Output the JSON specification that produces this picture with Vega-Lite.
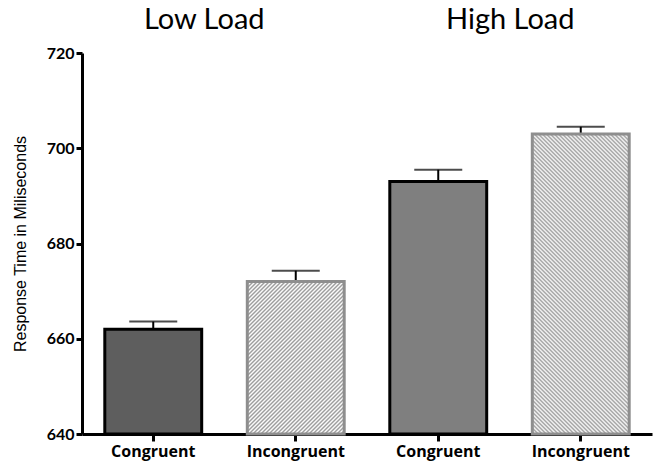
{
  "$schema": "https://vega.github.io/schema/vega-lite/v6.json",
  "width": 570,
  "height": 381,
  "autosize": {"type": "none"},
  "padding": {"left": 82, "top": 53, "right": 5, "bottom": 29},
  "background": "white",
  "config": {"view": {"stroke": null}},
  "data": {
    "values": [
      {"id": "LC", "cond": "Congruent", "load": "Low Load", "rt": 662, "upper": 663.6},
      {"id": "LI", "cond": "Incongruent", "load": "Low Load", "rt": 672, "upper": 674.3},
      {"id": "HC", "cond": "Congruent", "load": "High Load", "rt": 693, "upper": 695.5},
      {"id": "HI", "cond": "Incongruent", "load": "High Load", "rt": 703, "upper": 704.5}
    ]
  },
  "encoding": {
    "x": {
      "field": "id",
      "type": "nominal",
      "sort": ["LC", "LI", "HC", "HI"],
      "scale": {"paddingInner": 0.32, "paddingOuter": 0.16},
      "axis": {
        "title": null,
        "labelAngle": 0,
        "labelExpr": "(datum.value == 'LC' || datum.value == 'HC') ? 'Congruent' : 'Incongruent'",
        "labelFont": "Open Sans",
        "labelFontWeight": "bold",
        "labelFontSize": 16,
        "labelColor": "black",
        "labelPadding": 2,
        "domainColor": "black",
        "domainWidth": 3,
        "tickColor": "black",
        "tickWidth": 3,
        "tickSize": 7
      }
    },
    "y": {
      "field": "rt",
      "type": "quantitative",
      "scale": {"domain": [640, 720], "nice": false, "zero": false},
      "axis": {
        "title": "Response Time in Miliseconds",
        "titleFont": "Liberation Sans",
        "titleFontSize": 16,
        "titleFontWeight": "normal",
        "titleColor": "black",
        "titlePadding": 18,
        "values": [640, 660, 680, 700, 720],
        "grid": false,
        "labelFont": "Lato",
        "labelFontWeight": "bold",
        "labelFontSize": 16,
        "labelColor": "black",
        "labelPadding": 2,
        "domainColor": "black",
        "domainWidth": 3,
        "tickColor": "black",
        "tickWidth": 3,
        "tickSize": 6
      }
    }
  },
  "layer": [
    {
      "mark": {"type": "rule", "color": "black", "strokeWidth": 2},
      "encoding": {
        "y": {"field": "rt", "type": "quantitative"},
        "y2": {"field": "upper"}
      }
    },
    {
      "mark": {"type": "tick", "color": "black", "thickness": 2, "size": 48},
      "encoding": {
        "y": {"field": "upper", "type": "quantitative"}
      }
    },
    {
      "transform": [{"filter": "datum.cond == 'Congruent'"}],
      "mark": {"type": "bar", "strokeWidth": 3, "stroke": "black"},
      "encoding": {
        "y2": {"datum": 640},
        "fill": {
          "field": "id",
          "type": "nominal",
          "scale": {"domain": ["LC", "HC"], "range": ["#5e5e5e", "#7f7f7f"]},
          "legend": null
        }
      }
    },
    {
      "transform": [{"filter": "datum.id == 'LI'"}],
      "mark": {
        "type": "bar",
        "strokeWidth": 3,
        "stroke": "#8e8e8e",
        "fill": {
          "gradient": "linear",
          "x1": 0, "y1": 0, "x2": 1.1884, "y2": 1.8691,
          "stops": [
            {"offset":0,"color":"#fff"},{"offset":0.005,"color":"#999"},
            {"offset":0.01,"color":"#fff"},{"offset":0.015,"color":"#999"},
            {"offset":0.02,"color":"#fff"},{"offset":0.025,"color":"#999"},
            {"offset":0.03,"color":"#fff"},{"offset":0.035,"color":"#999"},
            {"offset":0.04,"color":"#fff"},{"offset":0.045,"color":"#999"},
            {"offset":0.05,"color":"#fff"},{"offset":0.055,"color":"#999"},
            {"offset":0.06,"color":"#fff"},{"offset":0.065,"color":"#999"},
            {"offset":0.07,"color":"#fff"},{"offset":0.075,"color":"#999"},
            {"offset":0.08,"color":"#fff"},{"offset":0.085,"color":"#999"},
            {"offset":0.09,"color":"#fff"},{"offset":0.095,"color":"#999"},
            {"offset":0.1,"color":"#fff"},{"offset":0.105,"color":"#999"},
            {"offset":0.11,"color":"#fff"},{"offset":0.115,"color":"#999"},
            {"offset":0.12,"color":"#fff"},{"offset":0.125,"color":"#999"},
            {"offset":0.13,"color":"#fff"},{"offset":0.135,"color":"#999"},
            {"offset":0.14,"color":"#fff"},{"offset":0.145,"color":"#999"},
            {"offset":0.15,"color":"#fff"},{"offset":0.155,"color":"#999"},
            {"offset":0.16,"color":"#fff"},{"offset":0.165,"color":"#999"},
            {"offset":0.17,"color":"#fff"},{"offset":0.175,"color":"#999"},
            {"offset":0.18,"color":"#fff"},{"offset":0.185,"color":"#999"},
            {"offset":0.19,"color":"#fff"},{"offset":0.195,"color":"#999"},
            {"offset":0.2,"color":"#fff"},{"offset":0.205,"color":"#999"},
            {"offset":0.21,"color":"#fff"},{"offset":0.215,"color":"#999"},
            {"offset":0.22,"color":"#fff"},{"offset":0.225,"color":"#999"},
            {"offset":0.23,"color":"#fff"},{"offset":0.235,"color":"#999"},
            {"offset":0.24,"color":"#fff"},{"offset":0.245,"color":"#999"},
            {"offset":0.25,"color":"#fff"},{"offset":0.255,"color":"#999"},
            {"offset":0.26,"color":"#fff"},{"offset":0.265,"color":"#999"},
            {"offset":0.27,"color":"#fff"},{"offset":0.275,"color":"#999"},
            {"offset":0.28,"color":"#fff"},{"offset":0.285,"color":"#999"},
            {"offset":0.29,"color":"#fff"},{"offset":0.295,"color":"#999"},
            {"offset":0.3,"color":"#fff"},{"offset":0.305,"color":"#999"},
            {"offset":0.31,"color":"#fff"},{"offset":0.315,"color":"#999"},
            {"offset":0.32,"color":"#fff"},{"offset":0.325,"color":"#999"},
            {"offset":0.33,"color":"#fff"},{"offset":0.335,"color":"#999"},
            {"offset":0.34,"color":"#fff"},{"offset":0.345,"color":"#999"},
            {"offset":0.35,"color":"#fff"},{"offset":0.355,"color":"#999"},
            {"offset":0.36,"color":"#fff"},{"offset":0.365,"color":"#999"},
            {"offset":0.37,"color":"#fff"},{"offset":0.375,"color":"#999"},
            {"offset":0.38,"color":"#fff"},{"offset":0.385,"color":"#999"},
            {"offset":0.39,"color":"#fff"},{"offset":0.395,"color":"#999"},
            {"offset":0.4,"color":"#fff"},{"offset":0.405,"color":"#999"},
            {"offset":0.41,"color":"#fff"},{"offset":0.415,"color":"#999"},
            {"offset":0.42,"color":"#fff"},{"offset":0.425,"color":"#999"},
            {"offset":0.43,"color":"#fff"},{"offset":0.435,"color":"#999"},
            {"offset":0.44,"color":"#fff"},{"offset":0.445,"color":"#999"},
            {"offset":0.45,"color":"#fff"},{"offset":0.455,"color":"#999"},
            {"offset":0.46,"color":"#fff"},{"offset":0.465,"color":"#999"},
            {"offset":0.47,"color":"#fff"},{"offset":0.475,"color":"#999"},
            {"offset":0.48,"color":"#fff"},{"offset":0.485,"color":"#999"},
            {"offset":0.49,"color":"#fff"},{"offset":0.495,"color":"#999"},
            {"offset":0.5,"color":"#fff"},{"offset":0.505,"color":"#999"},
            {"offset":0.51,"color":"#fff"},{"offset":0.515,"color":"#999"},
            {"offset":0.52,"color":"#fff"},{"offset":0.525,"color":"#999"},
            {"offset":0.53,"color":"#fff"},{"offset":0.535,"color":"#999"},
            {"offset":0.54,"color":"#fff"},{"offset":0.545,"color":"#999"},
            {"offset":0.55,"color":"#fff"},{"offset":0.555,"color":"#999"},
            {"offset":0.56,"color":"#fff"},{"offset":0.565,"color":"#999"},
            {"offset":0.57,"color":"#fff"},{"offset":0.575,"color":"#999"},
            {"offset":0.58,"color":"#fff"},{"offset":0.585,"color":"#999"},
            {"offset":0.59,"color":"#fff"},{"offset":0.595,"color":"#999"},
            {"offset":0.6,"color":"#fff"},{"offset":0.605,"color":"#999"},
            {"offset":0.61,"color":"#fff"},{"offset":0.615,"color":"#999"},
            {"offset":0.62,"color":"#fff"},{"offset":0.625,"color":"#999"},
            {"offset":0.63,"color":"#fff"}
          ]
        }
      },
      "encoding": {
        "y2": {"datum": 640}
      }
    },
    {
      "transform": [{"filter": "datum.id == 'HI'"}],
      "mark": {
        "type": "bar",
        "strokeWidth": 3,
        "stroke": "#8e8e8e",
        "fill": {
          "gradient": "linear",
          "x1": 0, "y1": 1, "x2": 0.38998, "y2": -0.2074,
          "stops": [
            {"offset":0,"color":"#fff"},{"offset":0.005,"color":"#999"},
            {"offset":0.01,"color":"#fff"},{"offset":0.015,"color":"#999"},
            {"offset":0.02,"color":"#fff"},{"offset":0.025,"color":"#999"},
            {"offset":0.03,"color":"#fff"},{"offset":0.035,"color":"#999"},
            {"offset":0.04,"color":"#fff"},{"offset":0.045,"color":"#999"},
            {"offset":0.05,"color":"#fff"},{"offset":0.055,"color":"#999"},
            {"offset":0.06,"color":"#fff"},{"offset":0.065,"color":"#999"},
            {"offset":0.07,"color":"#fff"},{"offset":0.075,"color":"#999"},
            {"offset":0.08,"color":"#fff"},{"offset":0.085,"color":"#999"},
            {"offset":0.09,"color":"#fff"},{"offset":0.095,"color":"#999"},
            {"offset":0.1,"color":"#fff"},{"offset":0.105,"color":"#999"},
            {"offset":0.11,"color":"#fff"},{"offset":0.115,"color":"#999"},
            {"offset":0.12,"color":"#fff"},{"offset":0.125,"color":"#999"},
            {"offset":0.13,"color":"#fff"},{"offset":0.135,"color":"#999"},
            {"offset":0.14,"color":"#fff"},{"offset":0.145,"color":"#999"},
            {"offset":0.15,"color":"#fff"},{"offset":0.155,"color":"#999"},
            {"offset":0.16,"color":"#fff"},{"offset":0.165,"color":"#999"},
            {"offset":0.17,"color":"#fff"},{"offset":0.175,"color":"#999"},
            {"offset":0.18,"color":"#fff"},{"offset":0.185,"color":"#999"},
            {"offset":0.19,"color":"#fff"},{"offset":0.195,"color":"#999"},
            {"offset":0.2,"color":"#fff"},{"offset":0.205,"color":"#999"},
            {"offset":0.21,"color":"#fff"},{"offset":0.215,"color":"#999"},
            {"offset":0.22,"color":"#fff"},{"offset":0.225,"color":"#999"},
            {"offset":0.23,"color":"#fff"},{"offset":0.235,"color":"#999"},
            {"offset":0.24,"color":"#fff"},{"offset":0.245,"color":"#999"},
            {"offset":0.25,"color":"#fff"},{"offset":0.255,"color":"#999"},
            {"offset":0.26,"color":"#fff"},{"offset":0.265,"color":"#999"},
            {"offset":0.27,"color":"#fff"},{"offset":0.275,"color":"#999"},
            {"offset":0.28,"color":"#fff"},{"offset":0.285,"color":"#999"},
            {"offset":0.29,"color":"#fff"},{"offset":0.295,"color":"#999"},
            {"offset":0.3,"color":"#fff"},{"offset":0.305,"color":"#999"},
            {"offset":0.31,"color":"#fff"},{"offset":0.315,"color":"#999"},
            {"offset":0.32,"color":"#fff"},{"offset":0.325,"color":"#999"},
            {"offset":0.33,"color":"#fff"},{"offset":0.335,"color":"#999"},
            {"offset":0.34,"color":"#fff"},{"offset":0.345,"color":"#999"},
            {"offset":0.35,"color":"#fff"},{"offset":0.355,"color":"#999"},
            {"offset":0.36,"color":"#fff"},{"offset":0.365,"color":"#999"},
            {"offset":0.37,"color":"#fff"},{"offset":0.375,"color":"#999"},
            {"offset":0.38,"color":"#fff"},{"offset":0.385,"color":"#999"},
            {"offset":0.39,"color":"#fff"},{"offset":0.395,"color":"#999"},
            {"offset":0.4,"color":"#fff"},{"offset":0.405,"color":"#999"},
            {"offset":0.41,"color":"#fff"},{"offset":0.415,"color":"#999"},
            {"offset":0.42,"color":"#fff"},{"offset":0.425,"color":"#999"},
            {"offset":0.43,"color":"#fff"},{"offset":0.435,"color":"#999"},
            {"offset":0.44,"color":"#fff"},{"offset":0.445,"color":"#999"},
            {"offset":0.45,"color":"#fff"},{"offset":0.455,"color":"#999"},
            {"offset":0.46,"color":"#fff"},{"offset":0.465,"color":"#999"},
            {"offset":0.47,"color":"#fff"},{"offset":0.475,"color":"#999"},
            {"offset":0.48,"color":"#fff"},{"offset":0.485,"color":"#999"},
            {"offset":0.49,"color":"#fff"},{"offset":0.495,"color":"#999"},
            {"offset":0.5,"color":"#fff"},{"offset":0.505,"color":"#999"},
            {"offset":0.51,"color":"#fff"},{"offset":0.515,"color":"#999"},
            {"offset":0.52,"color":"#fff"},{"offset":0.525,"color":"#999"},
            {"offset":0.53,"color":"#fff"},{"offset":0.535,"color":"#999"},
            {"offset":0.54,"color":"#fff"},{"offset":0.545,"color":"#999"},
            {"offset":0.55,"color":"#fff"},{"offset":0.555,"color":"#999"},
            {"offset":0.56,"color":"#fff"},{"offset":0.565,"color":"#999"},
            {"offset":0.57,"color":"#fff"},{"offset":0.575,"color":"#999"},
            {"offset":0.58,"color":"#fff"},{"offset":0.585,"color":"#999"},
            {"offset":0.59,"color":"#fff"},{"offset":0.595,"color":"#999"},
            {"offset":0.6,"color":"#fff"},{"offset":0.605,"color":"#999"},
            {"offset":0.61,"color":"#fff"},{"offset":0.615,"color":"#999"},
            {"offset":0.62,"color":"#fff"},{"offset":0.625,"color":"#999"},
            {"offset":0.63,"color":"#fff"},{"offset":0.635,"color":"#999"},
            {"offset":0.64,"color":"#fff"},{"offset":0.645,"color":"#999"},
            {"offset":0.65,"color":"#fff"},{"offset":0.655,"color":"#999"},
            {"offset":0.66,"color":"#fff"},{"offset":0.665,"color":"#999"},
            {"offset":0.67,"color":"#fff"},{"offset":0.675,"color":"#999"},
            {"offset":0.68,"color":"#fff"},{"offset":0.685,"color":"#999"},
            {"offset":0.69,"color":"#fff"},{"offset":0.695,"color":"#999"},
            {"offset":0.7,"color":"#fff"},{"offset":0.705,"color":"#999"},
            {"offset":0.71,"color":"#fff"},{"offset":0.715,"color":"#999"},
            {"offset":0.72,"color":"#fff"},{"offset":0.725,"color":"#999"},
            {"offset":0.73,"color":"#fff"},{"offset":0.735,"color":"#999"},
            {"offset":0.74,"color":"#fff"},{"offset":0.745,"color":"#999"},
            {"offset":0.75,"color":"#fff"},{"offset":0.755,"color":"#999"},
            {"offset":0.76,"color":"#fff"},{"offset":0.765,"color":"#999"},
            {"offset":0.77,"color":"#fff"},{"offset":0.775,"color":"#999"},
            {"offset":0.78,"color":"#fff"},{"offset":0.785,"color":"#999"},
            {"offset":0.79,"color":"#fff"},{"offset":0.795,"color":"#999"},
            {"offset":0.8,"color":"#fff"},{"offset":0.805,"color":"#999"},
            {"offset":0.81,"color":"#fff"},{"offset":0.815,"color":"#999"},
            {"offset":0.82,"color":"#fff"},{"offset":0.825,"color":"#999"},
            {"offset":0.83,"color":"#fff"},{"offset":0.835,"color":"#999"},
            {"offset":0.84,"color":"#fff"},{"offset":0.845,"color":"#999"},
            {"offset":0.85,"color":"#fff"},{"offset":0.855,"color":"#999"},
            {"offset":0.86,"color":"#fff"},{"offset":0.865,"color":"#999"},
            {"offset":0.87,"color":"#fff"},{"offset":0.875,"color":"#999"},
            {"offset":0.88,"color":"#fff"},{"offset":0.885,"color":"#999"},
            {"offset":0.89,"color":"#fff"},{"offset":0.895,"color":"#999"},
            {"offset":0.9,"color":"#fff"},{"offset":0.905,"color":"#999"},
            {"offset":0.91,"color":"#fff"},{"offset":0.915,"color":"#999"},
            {"offset":0.92,"color":"#fff"},{"offset":0.925,"color":"#999"},
            {"offset":0.93,"color":"#fff"},{"offset":0.935,"color":"#999"},
            {"offset":0.94,"color":"#fff"},{"offset":0.945,"color":"#999"},
            {"offset":0.95,"color":"#fff"},{"offset":0.955,"color":"#999"},
            {"offset":0.96,"color":"#fff"},{"offset":0.965,"color":"#999"},
            {"offset":0.97,"color":"#fff"},{"offset":0.975,"color":"#999"},
            {"offset":0.98,"color":"#fff"},{"offset":0.985,"color":"#999"},
            {"offset":0.99,"color":"#fff"},{"offset":0.995,"color":"#999"},
            {"offset":1,"color":"#fff"}
          ]
        }
      },
      "encoding": {
        "y2": {"datum": 640}
      }
    },
    {
      "transform": [{"filter": "datum.id == 'LC'"}],
      "mark": {"type": "text", "font": "Lato", "fontSize": 29, "color": "black", "dx": 51, "dy": -33, "baseline": "middle"},
      "encoding": {
        "y": {"datum": 720, "type": "quantitative"},
        "text": {"field": "load"}
      }
    },
    {
      "transform": [{"filter": "datum.id == 'HC'"}],
      "mark": {"type": "text", "font": "Lato", "fontSize": 29, "color": "black", "dx": 72, "dy": -33, "baseline": "middle"},
      "encoding": {
        "y": {"datum": 720, "type": "quantitative"},
        "text": {"field": "load"}
      }
    }
  ]
}
